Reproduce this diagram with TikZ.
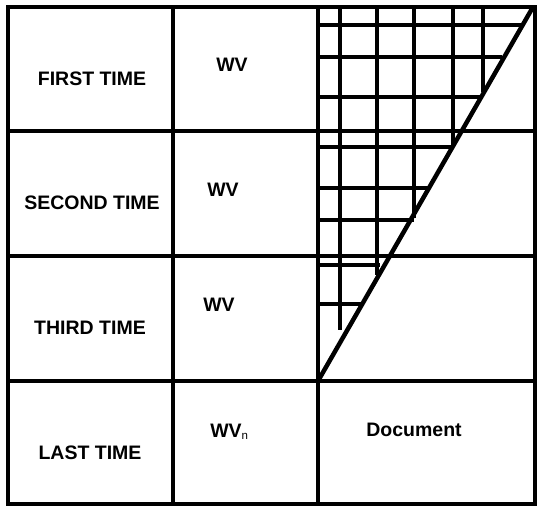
\documentclass[tikz,border=0pt]{standalone}
\usepackage{fontspec}
\setmainfont{Liberation Sans}
\begin{document}
\begin{tikzpicture}[x=1pt,y=-1pt,line width=4.5pt,
  lbl/.style={font=\bfseries\fontsize{19.5}{21}\selectfont, inner sep=0pt}]
\useasboundingbox (0,0) rectangle (538,507);
% table
\draw (8,7) rectangle (535,504);
\draw (173,7) -- (173,504);
\draw (318,7) -- (318,504);
\foreach \y in {131,256,381} \draw (8,\y) -- (535,\y);
% hatched triangle
\draw (318,381) -- (533,7);
\foreach \x/\e in {340/330,377/275,414/218,453/146,483/92} \draw (\x,7) -- (\x,\e);
\foreach \y/\e in {25/521,57/502,97/481,147/452,188/429,220/414,265/380,304/362} \draw (318,\y) -- (\e,\y);
% labels
\node[lbl] (first) at (92,79) {FIRST TIME};
\node[lbl] (second) at (92,203) {SECOND TIME};
\node[lbl] (third) at (90,328) {THIRD TIME};
\node[lbl] (last) at (90,453) {LAST TIME};
\node[lbl] (wv1) at (232,65) {WV};
\node[lbl] (wv2) at (223,190) {WV};
\node[lbl] (wv3) at (219,305) {WV};
\node[lbl, anchor=west] (wvn) at (208,432) {WV\raisebox{-1.5pt}{\mdseries\fontsize{11.5}{11.5}\selectfont n}};
\node[lbl] (doc) at (414,430) {Document};
\end{tikzpicture}
\end{document}
